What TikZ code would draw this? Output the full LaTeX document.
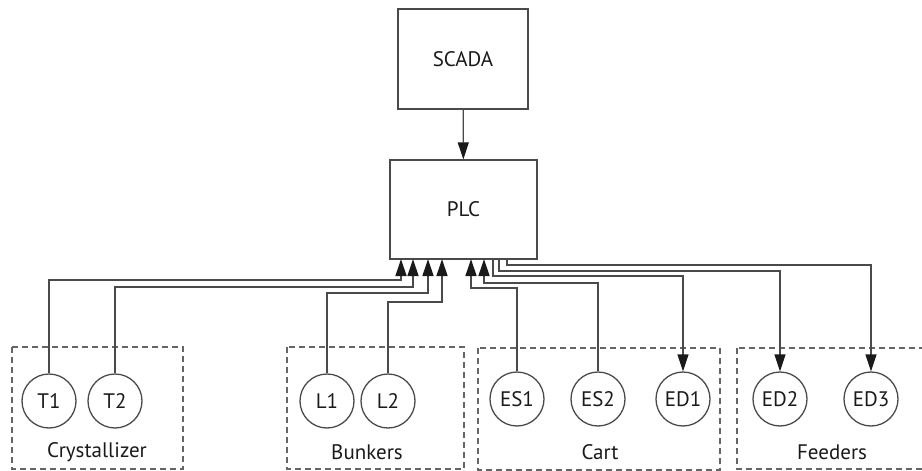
\documentclass[tikz,border=0pt]{standalone}
\usepackage{fontspec}
\setmainfont{PT Sans}
\usetikzlibrary{arrows.meta,calc}
\definecolor{wire}{HTML}{4A4A4A}
\definecolor{ink}{HTML}{1A1A1A}
\begin{document}
\begin{tikzpicture}[x=1pt,y=-1pt,
  every node/.style={text=ink,font=\fontsize{21}{24}\selectfont},
  block/.style={draw=wire,line width=1.3pt,minimum width=#1,inner sep=0pt},
  sensor/.style={draw=wire,line width=1.3pt,circle,minimum size=54pt,inner sep=0pt},
  group/.style={draw=wire!85,line width=1.3pt,dash pattern=on 6pt off 4pt},
  wireline/.style={draw=wire,line width=1.3pt},
  arr/.style={wireline,-{Triangle[length=17pt,width=11pt,color=ink]}}]
\useasboundingbox (0,0) rectangle (922,471);

% control hierarchy
\node[block=130pt,minimum height=100pt] (scada) at (463,59) {SCADA};
\node[block=147pt,minimum height=99pt] (plc) at (463.5,209.5) {PLC};
\draw[arr] (scada) -- (plc);

% field groups
\draw[group] (12,347) rectangle (183,469);
\draw[group] (287,347) rectangle (464,469);
\draw[group] (478,348) rectangle (720,470);
\draw[group] (737,348) rectangle (930,469);
\node (lcry) at (97,452) {Crystallizer};
\node (lbun) at (367,452) {Bunkers};
\node (lcart) at (600,452) {Cart};
\node (lfeed) at (832,452) {Feeders};

% field devices
\node[sensor] (T1) at (49,401) {T1};
\node[sensor] (T2) at (115,401) {T2};
\node[sensor] (L1) at (327,401) {L1};
\node[sensor] (L2) at (388,401) {L2};
\node[sensor] (ES1) at (517,399) {ES1};
\node[sensor] (ES2) at (598,399) {ES2};
\node[sensor] (ED1) at (683,399) {ED1};
\node[sensor] (ED2) at (780,399) {ED2};
\node[sensor] (ED3) at (871,399) {ED3};

% PLC terminals along the bottom edge
\coordinate (pT1)  at (401,259);
\coordinate (pT2)  at (413,259);
\coordinate (pL1)  at (428,259);
\coordinate (pL2)  at (442,259);
\coordinate (pES1) at (471,259);
\coordinate (pES2) at (484,259);
\coordinate (pED1) at (493,259);
\coordinate (pED2) at (499,259);
\coordinate (pED3) at (507,259);

% inputs to the PLC
\draw[arr] (T1.north)  |- (401,280) -- (pT1);
\draw[arr] (T2.north)  |- (413,287) -- (pT2);
\draw[arr] (L1.north)  |- (428,293) -- (pL1);
\draw[arr] (L2.north)  |- (442,302) -- (pL2);
\draw[arr] (ES1.north) |- (471,288) -- (pES1);
\draw[arr] (ES2.north) |- (484,283) -- (pES2);

% outputs from the PLC
\draw[arr] (pED1) |- (683,276) -- (ED1.north);
\draw[arr] (pED2) |- (780,271) -- (ED2.north);
\draw[arr] (pED3) |- (871,265) -- (ED3.north);
\end{tikzpicture}
\end{document}
